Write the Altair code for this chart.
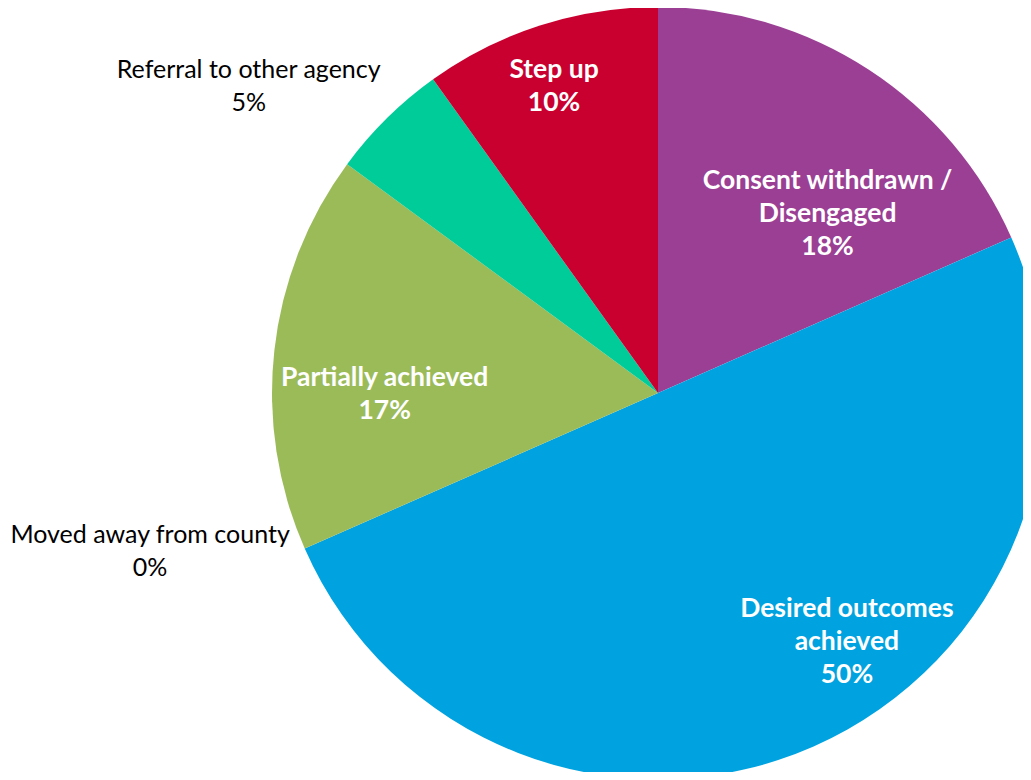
import altair as alt
import pandas as pd

categories = ["Consent withdrawn / Disengaged", "Desired outcomes achieved", "Moved away from county",
              "Partially achieved", "Referral to other agency", "Step up"]
values = [18.4, 50.0, 0.0, 16.7, 5.0, 9.9]
labels = ["Consent withdrawn /\nDisengaged\n18%", "Desired outcomes\nachieved\n50%", "Moved away from county\n0%",
          "Partially achieved\n17%", "Referral to other agency\n5%", "Step up\n10%"]
colors = ["#9B3F95", "#00A3E0", "#7F7F7F", "#9BBB59", "#00CC99", "#C9002F"]

df = pd.DataFrame({"category": categories, "value": values, "label": labels,
                   "idx": list(range(len(categories)))})

CX, CY, R = 650, 385, 386
FONT = "Lato"
LH = 33

base = alt.Chart(df)

theta = alt.Theta("value:Q", stack=True, scale=alt.Scale(range=[0, 6.283185307179586]))
order = alt.Order("idx:Q", sort="ascending")

pie = base.mark_arc(outerRadius=R, stroke=None).encode(
    theta=theta,
    order=order,
    color=alt.Color("category:N", scale=alt.Scale(domain=categories, range=colors), legend=None),
    x=alt.value(CX), y=alt.value(CY),
)

# (category, radius, dx, dy-of-block-centre, inside, n_lines)
label_specs = [
    ("Consent withdrawn / Disengaged", 250, 33, 30, True, 3),
    ("Desired outcomes achieved", 300, 68, -26, True, 3),
    ("Moved away from county", 520, -32, -51, False, 2),
    ("Partially achieved", 270, -5, 31, True, 2),
    ("Referral to other agency", 500, -58, 49, False, 2),
    ("Step up", 320, -6, -2, True, 2),
]

layers = [pie]
for cat, r, dx, dy, inside, n in label_specs:
    t = base.transform_calculate(
        lbl=f"datum.category == '{cat}' ? datum.label : ''"
    ).mark_text(
        radius=r, dx=dx, dy=dy - (n - 1) * LH / 2, align="center", baseline="middle", lineBreak="\n",
        lineHeight=LH, font=FONT, fontSize=26.5 if inside else 25,
        fontWeight="bold" if inside else "normal",
        color="white" if inside else "black",
    ).encode(
        theta=theta, order=order, text="lbl:N",
        x=alt.value(CX), y=alt.value(CY),
    )
    layers.append(t)

chart = alt.layer(*layers).properties(
    width=1015, height=764,
    autosize=alt.AutoSizeParams(type="none"),
    padding=0,
).configure_view(stroke=None)

chart.save("out.html", embed_options={"renderer": "svg", "actions": False})
